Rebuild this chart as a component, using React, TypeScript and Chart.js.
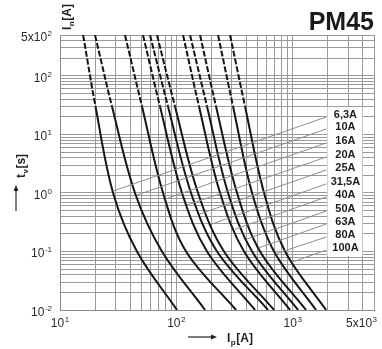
import React, { useEffect, useRef } from 'react';
import { Chart, registerables } from 'chart.js';
Chart.register(...registerables);

// time points (s) at which each curve was read
const times = [500, 30, 1, 0.1, 0.01];
const ratings = ['6,3A', '10A', '16A', '20A', '25A', '31,5A', '40A', '50A', '63A', '80A', '100A'];
// prospective current (A) for each rating at the times above
const iA6_3 = [15.8, 20.2, 28.6, 45.9, 101.4];
const iA10 = [20.0, 28.0, 44.1, 75.3, 176.5];
const iA16 = [36.2, 50.7, 76.9, 121.2, 326];
const iA20 = [51.7, 72.4, 111.9, 183.6, 475];
const iA25 = [59.4, 84.8, 133.8, 223.9, 614];
const iA31_5 = [68.2, 97.4, 153.7, 257, 692];
const iA40 = [114.2, 156.7, 237.6, 382, 950];
const iA50 = [131.2, 183.6, 278.3, 447.7, 1113];
const iA63 = [159.9, 219.5, 332.6, 524.5, 1304];
const iA80 = [228.4, 307.3, 447.7, 692, 1589];
const iA100 = [289.5, 389.6, 567.8, 860.6, 1938];
const curves = [iA6_3, iA10, iA16, iA20, iA25, iA31_5, iA40, iA50, iA63, iA80, iA100];
const dashAboveTime = 30;

// leader lines from the rating labels to the curves
const leaderStartCurrent = 1950;
const leaderStartTimes = [19.9, 12.4, 7.16, 4.12, 2.47, 1.43, 0.855, 0.492, 0.295, 0.177, 0.106];
const leaderEndCurrents = [28.6, 45.9, 80.7, 123.6, 159.9, 202.8, 319.7, 405.4, 509.2, 712.8, 988];
const leaderEndTimes = [1.08, 0.92, 0.79, 0.62, 0.44, 0.295, 0.24, 0.164, 0.115, 0.091, 0.066];

// axes
const xMin = 10;
const xMax = 5000;
const yMin = 0.01;
const yMax = 500;
const xLabelValues = [10, 100, 1000, 5000];
const xLabelBases = ['10', '10', '10', '5x10'];
const xLabelExps = ['1', '2', '3', '3'];
const yLabelValues = [0.01, 0.1, 1, 10, 100, 500];
const yLabelBases = ['10', '10', '10', '10', '10', '5x10'];
const yLabelExps = ['-2', '-1', '0', '1', '2', '2'];
const title = 'PM45';

const FONT = '"Liberation Sans", Arial, Helvetica, sans-serif';

function logGrid(min: number, max: number): number[] {
  const out: number[] = [];
  let d = Math.pow(10, Math.floor(Math.log10(min) + 1e-9));
  while (d <= max) {
    for (let k = 1; k <= 9; k++) {
      const v = k * d;
      if (v >= min * 0.999 && v <= max * 1.001) out.push(v);
    }
    d *= 10;
  }
  return out;
}

function drawPow(ctx: CanvasRenderingContext2D, base: string, exp: string, x: number, y: number, align: 'center' | 'right') {
  ctx.font = `12px ${FONT}`;
  const bw = ctx.measureText(base).width;
  ctx.font = `8px ${FONT}`;
  const ew = ctx.measureText(exp).width;
  const total = bw + ew + 0.5;
  const left = align === 'center' ? x - total / 2 : x - total;
  ctx.textAlign = 'left';
  ctx.textBaseline = 'alphabetic';
  ctx.font = `12px ${FONT}`;
  ctx.fillText(base, left, y);
  ctx.font = `8px ${FONT}`;
  ctx.fillText(exp, left + bw + 0.5, y - 5);
}

function drawParts(ctx: CanvasRenderingContext2D, parts: [string, string][], x: number, y: number) {
  let cx = x;
  for (const [t, kind] of parts) {
    if (kind === 'sub') {
      ctx.font = `bold 8px ${FONT}`;
      ctx.fillText(t, cx, y + 3);
    } else {
      ctx.font = `bold 12px ${FONT}`;
      ctx.fillText(t, cx, y);
    }
    cx += ctx.measureText(t).width + 0.5;
  }
}

const decor = {
  id: 'decor',
  afterDatasetsDraw(chart: any) {
    const { ctx, chartArea: a } = chart;
    const xs = chart.scales.x;
    const ys = chart.scales.y;
    ctx.save();
    // label box
    const bx = xs.getPixelForValue(leaderStartCurrent) + 1;
    const top = ys.getPixelForValue(leaderStartTimes[0]) - 10;
    const bot = ys.getPixelForValue(leaderStartTimes[leaderStartTimes.length - 1]) + 6;
    ctx.fillStyle = '#ffffff';
    ctx.fillRect(bx, top, 35, bot - top);
    ctx.fillStyle = '#1c1c1c';
    ctx.font = `bold 11px ${FONT}`;
    ctx.textAlign = 'center';
    ctx.textBaseline = 'middle';
    ratings.forEach((r, i) => {
      ctx.fillText(r, bx + 18, ys.getPixelForValue(leaderStartTimes[i]) - 2);
    });

    // tick labels
    ctx.fillStyle = '#2a2a2a';
    xLabelValues.forEach((v, i) => {
      const px = xs.getPixelForValue(v);
      const last = i === xLabelValues.length - 1;
      drawPow(ctx, xLabelBases[i], xLabelExps[i], last ? a.right + 3 : px, a.bottom + 17, last ? 'right' : 'center');
    });
    yLabelValues.forEach((v, i) => {
      const py = ys.getPixelForValue(v);
      drawPow(ctx, yLabelBases[i], yLabelExps[i], a.left - 8, py + 6, 'right');
    });

    // title
    ctx.fillStyle = '#1a1a1a';
    ctx.font = `bold 25px ${FONT}`;
    ctx.textAlign = 'right';
    ctx.textBaseline = 'alphabetic';
    ctx.fillText(title, a.right, 30);

    ctx.fillStyle = '#222';
    ctx.strokeStyle = '#222';
    ctx.textAlign = 'left';
    ctx.textBaseline = 'alphabetic';
    // I_n[A] rotated at top
    ctx.save();
    ctx.translate(a.left + 11, 30);
    ctx.rotate(-Math.PI / 2);
    drawParts(ctx, [['I', 'n'], ['n', 'sub'], ['[A]', 'n']], 0, 0);
    ctx.restore();
    // t_v[s] rotated
    ctx.save();
    ctx.translate(25, 178);
    ctx.rotate(-Math.PI / 2);
    drawParts(ctx, [['t', 'n'], ['v', 'sub'], ['[s]', 'n']], 0, 0);
    ctx.restore();
    // up arrow
    ctx.lineWidth = 1.2;
    ctx.beginPath();
    ctx.moveTo(16, 211);
    ctx.lineTo(16, 188);
    ctx.stroke();
    ctx.beginPath();
    ctx.moveTo(16, 185);
    ctx.lineTo(13.5, 191);
    ctx.lineTo(18.5, 191);
    ctx.closePath();
    ctx.fill();
    // right arrow + I_p[A]
    ctx.beginPath();
    ctx.moveTo(188, 337);
    ctx.lineTo(213, 337);
    ctx.stroke();
    ctx.beginPath();
    ctx.moveTo(217, 337);
    ctx.lineTo(211, 334.5);
    ctx.lineTo(211, 339.5);
    ctx.closePath();
    ctx.fill();
    drawParts(ctx, [['I', 'n'], ['p', 'sub'], ['[A]', 'n']], 227, 342);
    ctx.restore();
  },
};

export default function App() {
  const ref = useRef<HTMLCanvasElement | null>(null);
  useEffect(() => {
    if (!ref.current) return;
    const xGrid = logGrid(xMin, xMax);
    const yGrid = logGrid(yMin, yMax);
    const curveSets = curves.map((vals, ci) => ({
      label: ratings[ci],
      data: vals.map((v, i) => ({ x: v, y: times[i] })),
      borderColor: '#151515',
      borderWidth: 2,
      pointRadius: 0,
      tension: 0.35,
      fill: false,
      segment: {
        borderDash: (c: any) => (c.p1.parsed.y >= dashAboveTime ? [6, 2] : undefined),
      },
    }));
    const leaderSets = ratings.map((r, i) => ({
      label: 'leader ' + r,
      data: [
        { x: leaderEndCurrents[i], y: leaderEndTimes[i] },
        { x: leaderStartCurrent, y: leaderStartTimes[i] },
      ],
      borderColor: '#8d8d8d',
      borderWidth: 1,
      pointRadius: 0,
      fill: false,
    }));
    const chart = new Chart(ref.current, {
      type: 'line',
      data: { datasets: [...leaderSets, ...curveSets] as any },
      options: {
        animation: false,
        responsive: false,
        maintainAspectRatio: false,
        layout: { padding: { left: 60, top: 35, right: 8, bottom: 39 } },
        plugins: { legend: { display: false }, tooltip: { enabled: false }, title: { display: false } },
        scales: {
          x: {
            type: 'logarithmic',
            min: xMin,
            max: xMax,
            afterBuildTicks: (s: any) => { s.ticks = xGrid.map((v) => ({ value: v })); },
            ticks: { display: false },
            grid: { color: '#9a9a9a', lineWidth: 1, drawTicks: false },
            border: { display: true, color: '#8a8a8a', width: 1 },
          },
          y: {
            type: 'logarithmic',
            min: yMin,
            max: yMax,
            afterBuildTicks: (s: any) => { s.ticks = yGrid.map((v) => ({ value: v })); },
            ticks: { display: false },
            grid: { color: '#9a9a9a', lineWidth: 1, drawTicks: false },
            border: { display: true, color: '#8a8a8a', width: 1 },
          },
        },
      },
      plugins: [decor],
    });
    return () => chart.destroy();
  }, []);
  return (
    <div style={{ position: 'absolute', left: 0, top: 0, width: 382, height: 349, background: '#fff' }}>
      <canvas ref={ref} width={382} height={349} style={{ display: 'block' }} />
    </div>
  );
}
